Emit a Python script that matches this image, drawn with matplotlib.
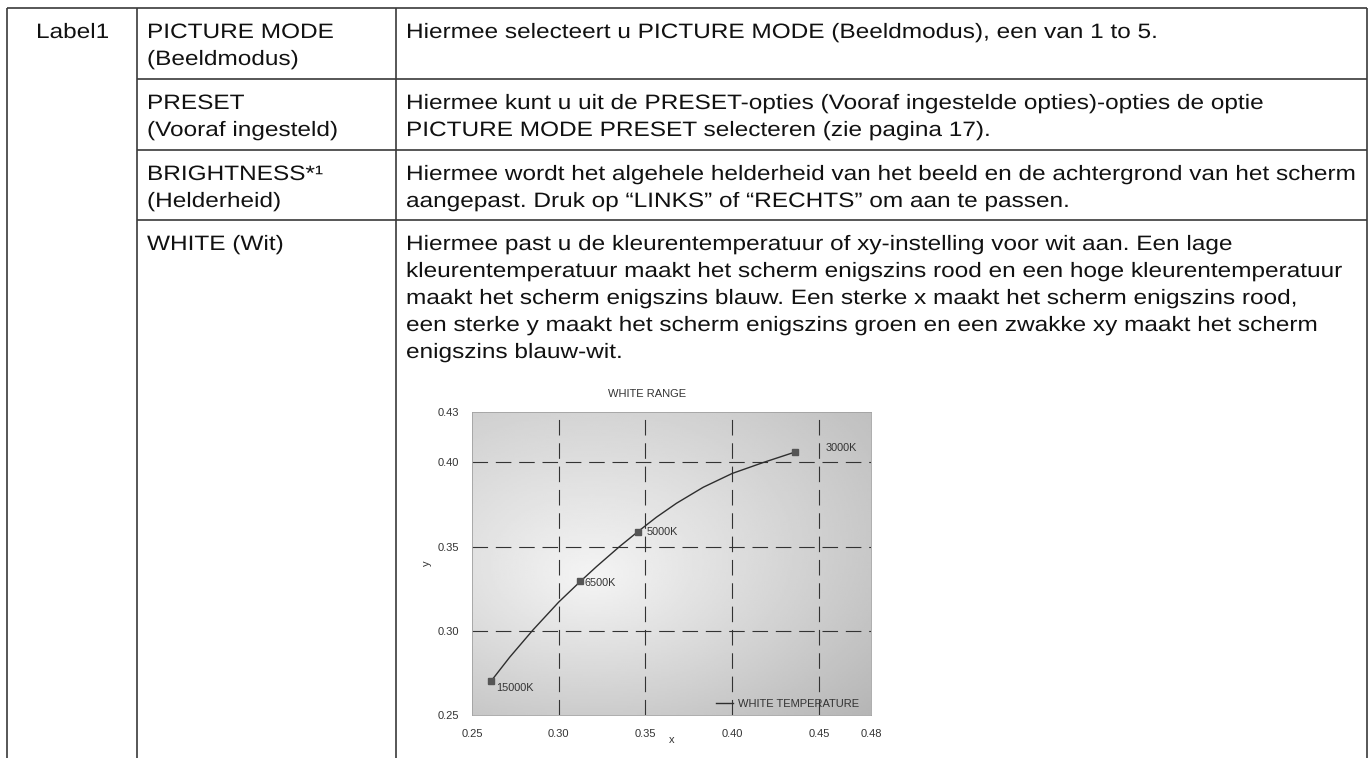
import numpy as np
import matplotlib.pyplot as plt
from matplotlib import patheffects
from matplotlib.transforms import Affine2D

plt.rcParams['font.family'] = ['Liberation Sans', 'DejaVu Sans']

# --- table content ---
group_label = 'Label1'
item_names = [
    ['PICTURE MODE', '(Beeldmodus)'],
    ['PRESET', '(Vooraf ingesteld)'],
    ['BRIGHTNESS*\u00b9', '(Helderheid)'],
    ['WHITE (Wit)'],
]
item_texts = [
    ['Hiermee selecteert u PICTURE MODE (Beeldmodus), een van 1 to 5.'],
    ['Hiermee kunt u uit de PRESET-opties (Vooraf ingestelde opties)-opties de optie',
     'PICTURE MODE PRESET selecteren (zie pagina 17).'],
    ['Hiermee wordt het algehele helderheid van het beeld en de achtergrond van het scherm',
     'aangepast. Druk op \u201cLINKS\u201d of \u201cRECHTS\u201d om aan te passen.'],
    ['Hiermee past u de kleurentemperatuur of xy-instelling voor wit aan. Een lage',
     'kleurentemperatuur maakt het scherm enigszins rood en een hoge kleurentemperatuur',
     'maakt het scherm enigszins blauw. Een sterke x maakt het scherm enigszins rood,',
     'een sterke y maakt het scherm enigszins groen en een zwakke xy maakt het scherm',
     'enigszins blauw-wit.'],
]

# --- WHITE RANGE chart data ---
curve_x = [0.2612, 0.2717, 0.2852, 0.3000, 0.3125, 0.3217, 0.3352, 0.3456,
           0.3563, 0.3679, 0.3833, 0.4000, 0.4179, 0.4362]
curve_y = [0.2704, 0.2843, 0.3006, 0.3171, 0.3294, 0.3381, 0.3502, 0.3589,
           0.3675, 0.3758, 0.3853, 0.3935, 0.4000, 0.4062]
temp_labels = ['15000K', '6500K', '5000K', '3000K']
temp_x = [0.2612, 0.3125, 0.3456, 0.4362]
temp_y = [0.2704, 0.3294, 0.3589, 0.4062]
label_offsets = [(3.5, -5), (3, -1.5), (6.5, -0.5), (22, 3)]
x_ticks = [0.25, 0.30, 0.35, 0.40, 0.45, 0.48]
y_ticks = [0.25, 0.30, 0.35, 0.40, 0.43]


class WideText(patheffects.AbstractPathEffect):
    """Draw text a bit wider than the font, stretched from its left baseline point."""

    def __init__(self, sx):
        super().__init__()
        self.sx = sx

    def draw_path(self, renderer, gc, tpath, affine, rgbFace=None):
        x0, y0 = affine.transform((0, 0))
        wide = affine + Affine2D().translate(-x0, -y0).scale(self.sx, 1).translate(x0, y0)
        renderer.draw_path(gc, tpath, wide, rgbFace)


W, H = 1371, 758
fig = plt.figure(figsize=(W / 100, H / 100), dpi=100)

# table drawn in pixel coordinates
tab = fig.add_axes([0, 0, 1, 1])
tab.set_xlim(0, W)
tab.set_ylim(H, 0)
tab.axis('off')

col_x = [7, 137, 396, 1367]
row_y = [8, 79, 150, 220]
line_kw = dict(color='#3a3a3a', linewidth=1.2)
tab.hlines(row_y[0], col_x[0], col_x[-1], **line_kw)
tab.hlines(row_y[1:], col_x[1], col_x[-1], **line_kw)
tab.vlines(col_x, row_y[0], H + 5, **line_kw)

text_kw = dict(fontsize=15, color='#111111', va='baseline', ha='left',
               path_effects=[WideText(1.17)])
step = 27
tab.text(36, row_y[0] + 30, group_label, **text_kw)
for top, names, lines in zip(row_y, item_names, item_texts):
    for i, s in enumerate(names):
        tab.text(147, top + 30 + i * step, s, **text_kw)
    for i, s in enumerate(lines):
        tab.text(406, top + 30 + i * step, s, **text_kw)

# chart
ax = fig.add_axes([472 / W, (H - 715) / H, 399 / W, 303 / H])
ax.set_xlim(0.25, 0.48)
ax.set_ylim(0.25, 0.43)

# soft radial background, a little darker toward the bottom
gx, gy = np.meshgrid(np.linspace(0, 399, 200), np.linspace(0, 303, 160))
d = np.hypot((gx - 0.30 * 399) / 1.5, gy - 0.45 * 303)
shade = np.clip(0.99 - 0.2 * (d / 210) - 0.06 * (1 - gy / 303), 0, 1)
ax.imshow(shade, cmap='gray', vmin=0, vmax=1, origin='lower',
          extent=[0.25, 0.48, 0.25, 0.43], aspect='auto', zorder=0)

ax.set_xticks(x_ticks)
ax.set_yticks(y_ticks)
ax.set_xticklabels([f'{v:.2f}' for v in x_ticks])
ax.set_yticklabels([f'{v:.2f}' for v in y_ticks])
ax.tick_params(length=0, labelsize=8, labelcolor='#333333')
ax.tick_params(axis='x', pad=10)
ax.tick_params(axis='y', pad=9)

for v in x_ticks[1:-1]:
    ax.axvline(v, color='#333333', lw=0.8, ls=(0, (14, 7)), zorder=1)
for v in y_ticks[1:-1]:
    ax.axhline(v, color='#333333', lw=0.8, ls=(0, (14, 7)), zorder=1)

for s in ax.spines.values():
    s.set_color('#a0a0a0')
    s.set_linewidth(0.6)

ax.plot(curve_x, curve_y, color='#2e2e2e', lw=1.0, zorder=3, label='WHITE TEMPERATURE')
ax.plot(temp_x, temp_y, ls='none', marker='s', ms=4.3, color='#555555', zorder=4)
for lab, px, py, off in zip(temp_labels, temp_x, temp_y, label_offsets):
    ax.annotate(lab, (px, py), xytext=off, textcoords='offset points',
                fontsize=7.8, color='#333333', va='center', ha='left')

ax.set_title('WHITE RANGE', fontsize=8, color='#333333', pad=11)
ax.title.set_x(0.4386)
ax.set_xlabel('x', fontsize=8, color='#333333')
ax.set_ylabel('y', fontsize=8, color='#333333')
ax.xaxis.set_label_coords(0.5, -0.066)
ax.yaxis.set_label_coords(-0.1, 0.5)

ax.legend(loc='lower left', bbox_to_anchor=(0.6115, 0.02), frameon=False,
          fontsize=8, labelcolor='#333333', handlelength=1.53,
          handletextpad=0.42, borderpad=0, borderaxespad=0)

fig.savefig('out.png', dpi=100)
